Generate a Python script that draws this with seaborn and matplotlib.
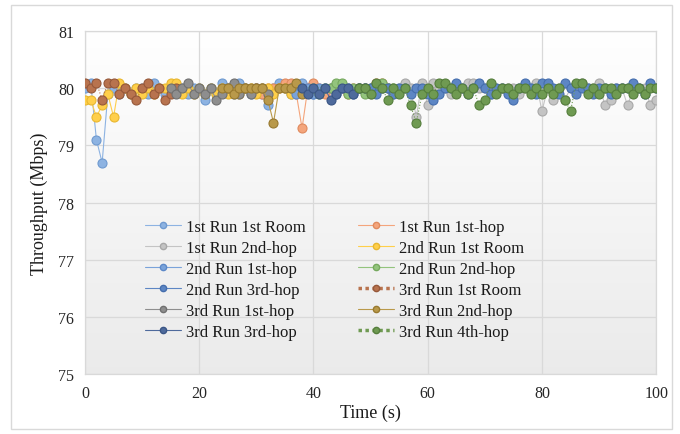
import numpy as np
import pandas as pd
import matplotlib
matplotlib.use("Agg")
import matplotlib.pyplot as plt
from matplotlib.lines import Line2D
from matplotlib.patches import Rectangle
import seaborn as sns

# series names in legend order (row-major, 2 columns)
series_names = [
    "1st Run 1st Room", "1st Run 1st-hop",
    "1st Run 2nd-hop", "2nd Run 1st Room",
    "2nd Run 1st-hop", "2nd Run 2nd-hop",
    "2nd Run 3rd-hop", "3rd Run 1st Room",
    "3rd Run 1st-hop", "3rd Run 2nd-hop",
    "3rd Run 3rd-hop", "3rd Run 4th-hop",
]

# start time (s) of each run, sampled once per second
start_times = [0, 30, 48, 0, 36, 40, 50, 0, 15, 24, 38, 48]

run1_room = [80.0, 80.1, 79.1, 78.7, 79.9, 80.0, 79.9, 80.0, 79.9, 80.0, 80.0, 79.9, 80.1, 80.0,
             79.9, 80.0, 80.0, 80.0, 79.9, 80.0, 80.0, 79.8, 80.0, 79.9, 80.1, 80.0, 79.9, 80.1,
             80.0, 79.9, 80.0, 79.9, 79.7, 80.0, 80.1, 80.0, 79.9, 80.0, 80.1, 80.0, 79.9]
run1_hop1 = [80.0, 79.9, 80.0, 80.0, 80.0, 80.1, 80.1, 79.9, 79.3, 80.0, 80.1, 80.0, 79.9, 80.0,
             80.0, 80.0, 79.9, 80.0, 80.0, 80.0, 80.0, 80.1, 80.1, 80.0]
run1_hop2 = [80.0, 80.0, 79.9, 80.0, 80.0, 80.0, 79.9, 80.0, 80.1, 80.0, 79.5, 80.1, 79.7, 80.1,
             80.0, 80.0, 79.9, 80.0, 80.0, 80.1, 80.1, 80.0, 80.0, 79.9, 80.0, 80.0, 80.0, 80.0,
             79.9, 80.0, 80.0, 80.1, 79.6, 80.0, 79.8, 80.0, 79.8, 80.0, 80.0, 80.1, 80.0, 80.0,
             80.1, 79.7, 79.8, 80.0, 80.0, 79.7, 80.0, 80.0, 80.0, 79.7, 79.8]
run2_room = [79.8, 79.8, 79.5, 79.7, 79.9, 79.5, 80.1, 80.0, 79.9, 80.0, 79.9, 80.0, 79.9, 80.0,
             80.0, 80.1, 80.1, 79.9, 80.0, 79.9, 80.0, 79.9, 80.0, 79.9, 80.0, 79.9, 80.0, 79.9,
             80.0, 80.0, 79.9, 80.0, 80.0, 79.9, 80.0, 80.0, 79.9]
run2_hop1 = [80.0, 79.9, 80.0, 80.0, 79.9, 80.0, 80.0, 80.0, 79.9, 80.0, 80.0, 79.9, 80.0, 80.0, 80.0]
run2_hop2 = [80.0, 79.9, 80.0, 80.0, 80.1, 80.1, 79.9, 80.0, 80.0, 79.9, 80.0, 80.0, 80.1, 80.0, 80.0]
run2_hop3 = [80.0, 79.9, 80.0, 80.0, 79.9, 80.0, 80.0, 79.9, 80.0, 80.0, 79.9, 79.8, 79.9, 80.0,
             80.0, 80.1, 80.0, 79.9, 80.0, 80.1, 80.0, 79.9, 80.0, 80.0, 79.9, 79.8, 80.0, 80.1,
             80.0, 79.9, 80.1, 80.1, 80.0, 79.9, 80.1, 80.0, 79.9, 80.0, 80.0, 79.9, 80.0, 80.0,
             79.9, 80.0, 80.0, 80.0, 80.1, 80.0, 79.9, 80.1, 80.0]
run3_room = [80.1, 80.0, 80.1, 79.8, 80.1, 80.1, 79.9, 80.0, 79.9, 79.8, 80.0, 80.1, 79.9, 80.0,
             79.8, 79.9, 80.0]
run3_hop1 = [80.0, 79.9, 80.0, 80.1, 79.9, 80.0, 79.9, 80.0, 79.8, 79.9, 80.0, 80.1, 79.9, 80.0,
             79.9, 80.0, 80.0, 79.9]
run3_hop2 = [80.0, 80.0, 79.9, 80.0, 80.0, 80.0, 80.0, 80.0, 79.8, 79.4, 80.0, 80.0, 80.0, 80.1, 79.9]
run3_hop3 = [80.0, 79.9, 80.0, 79.9, 80.0, 79.8, 79.9, 80.0, 80.0, 79.9, 80.0, 80.0]
run3_hop4 = [80.0, 80.0, 79.9, 80.1, 80.0, 79.8, 80.0, 79.9, 80.0, 79.7, 79.4, 79.9, 80.0, 79.9,
             80.1, 80.1, 80.0, 79.9, 80.0, 79.9, 80.0, 79.7, 79.8, 80.1, 79.9, 80.0, 80.0, 79.9,
             80.0, 80.0, 79.9, 80.0, 79.9, 80.0, 79.9, 80.0, 79.8, 79.6, 80.1, 80.1, 79.9, 80.0,
             79.9, 80.0, 80.0, 79.9, 80.0, 80.0, 79.9, 80.0, 79.9, 80.0, 80.0]

series_values = [run1_room, run1_hop1, run1_hop2, run2_room, run2_hop1, run2_hop2,
                 run2_hop3, run3_room, run3_hop1, run3_hop2, run3_hop3, run3_hop4]

face_colors = ["#8DB3E2", "#F4A57C", "#C4C4C4", "#FFCF4A", "#7AA3DA", "#93C47D",
               "#5D86C4", "#B8734E", "#8E8E8E", "#B9994A", "#4E6A9C", "#6F9A52"]
edge_colors = ["#6F9AD0", "#E08A5E", "#A8A8A8", "#E8B730", "#5C88C8", "#76A95E",
               "#456EAD", "#96583A", "#707070", "#98792F", "#3A5585", "#557E3C"]
line_styles = ["-", "-", "-", "-", "-", "-", "-", ":", "-", "-", "-", ":"]

serif = ["Liberation Serif", "DejaVu Serif"]

sns.set_theme(style="white")
plt.rcParams["font.family"] = serif

fig = plt.figure(figsize=(6.8, 4.35), dpi=100)
ax = fig.add_axes([0.125, 0.138, 0.84, 0.788])

# light gray frame around the whole chart
fig.patches.append(Rectangle((0.016, 0.012), 0.972, 0.975, transform=fig.transFigure,
                             fill=False, edgecolor="#D9D9D9", linewidth=1.0))

# background gradient (white at top to light gray at bottom)
grad = np.linspace(1.0, 0.92, 256).reshape(-1, 1)
ax.imshow(np.dstack([grad, grad, grad]), extent=[0, 100, 75, 81], aspect="auto",
          origin="upper", zorder=0)

for i, name in enumerate(series_names):
    t = start_times[i] + np.arange(len(series_values[i]))
    df = pd.DataFrame({"Time": t, "Throughput": series_values[i]})
    sns.lineplot(data=df, x="Time", y="Throughput", ax=ax, color=face_colors[i],
                 linestyle=line_styles[i], linewidth=0.8, marker="o", markersize=6.5,
                 markerfacecolor=face_colors[i], markeredgecolor=edge_colors[i],
                 markeredgewidth=0.8, zorder=3 + i, legend=False)

ax.set_xlim(0, 100)
ax.set_ylim(75, 81)
ax.set_xticks([0, 20, 40, 60, 80, 100])
ax.set_yticks([75, 76, 77, 78, 79, 80, 81])
ax.grid(True, color="#D9D9D9", linewidth=0.9, zorder=1)
ax.set_axisbelow(True)
for sp in ax.spines.values():
    sp.set_color("#D9D9D9")
    sp.set_linewidth(0.9)
ax.tick_params(axis="both", length=0, labelsize=11.5, colors="#262626", pad=8)
ax.set_xlabel("Time (s)", fontsize=13, color="#1a1a1a", labelpad=2)
ax.set_ylabel("Throughput (Mbps)", fontsize=13, color="#1a1a1a", labelpad=7)

# legend handles, re-ordered so matplotlib's column-major fill reads row-major
handles = []
for i, name in enumerate(series_names):
    dotted = line_styles[i] == ":"
    handles.append(Line2D([0], [0], color=face_colors[i], linestyle=(0, (1, 1)) if dotted else "-",
                          linewidth=2.5 if dotted else 0.8, marker="o", markersize=4.5,
                          markerfacecolor=face_colors[i], markeredgecolor=edge_colors[i],
                          label=name))
order = list(range(0, 12, 2)) + list(range(1, 12, 2))
leg = ax.legend([handles[k] for k in order], [series_names[k] for k in order], ncol=2,
                loc="upper left", bbox_to_anchor=(0.078, 0.495), frameon=False,
                fontsize=12, handlelength=2.2, columnspacing=3.1, labelspacing=0.3,
                handletextpad=0.3)
for txt in leg.get_texts():
    txt.set_color("#1a1a1a")

fig.savefig("out.png", dpi=100)
